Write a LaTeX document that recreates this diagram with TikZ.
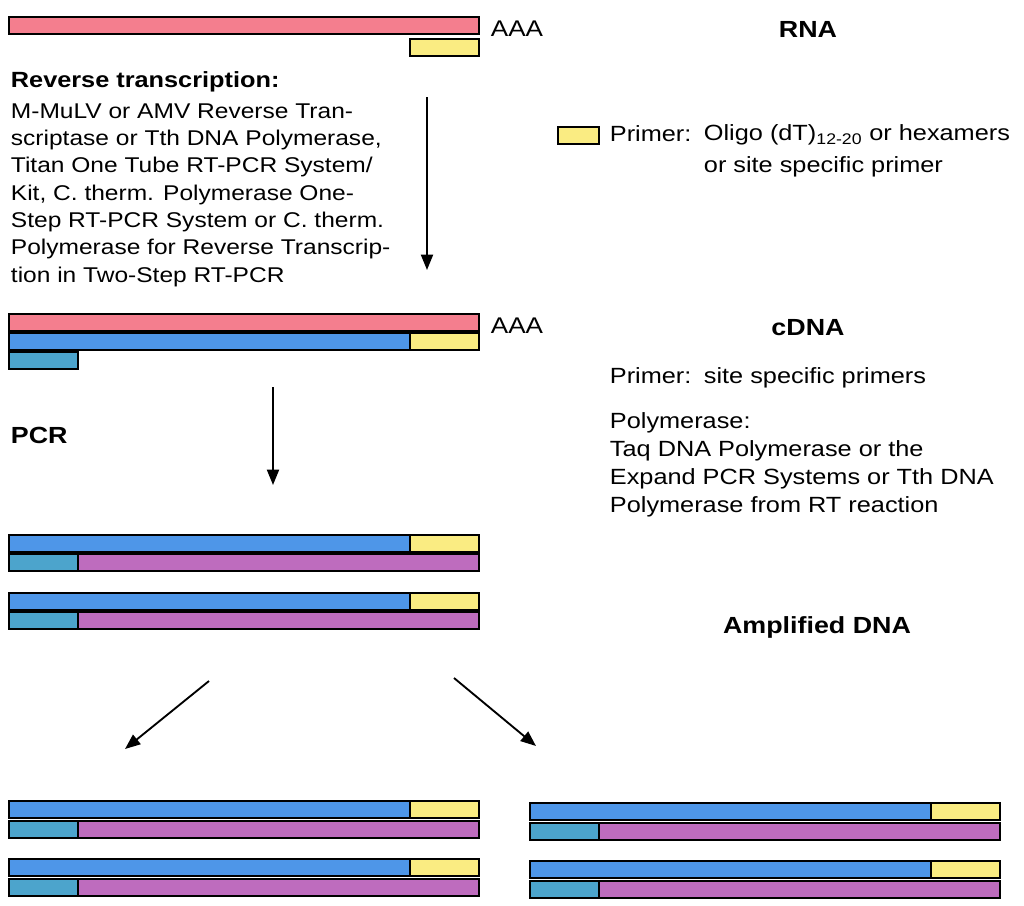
\documentclass[tikz,border=0pt]{standalone}
\usepackage{fontspec}
\setmainfont{Liberation Sans}[FakeStretch=1.15]
\usepackage{tikz}
\usetikzlibrary{positioning}
\usetikzlibrary{arrows.meta}
\definecolor{rnared}{RGB}{244,126,142}
\definecolor{dnablue}{RGB}{78,150,232}
\definecolor{primeryellow}{RGB}{250,236,130}
\definecolor{primerteal}{RGB}{76,164,204}
\definecolor{dnapurple}{RGB}{190,108,190}
\tikzset{
    strand/.style={
           rectangle,
           draw=black, line width=1.3pt,
           inner sep=0pt, outer sep=0pt,
           minimum height=12.5pt,
           anchor=north west,
           },
    rna/.style={strand, fill=rnared},
    dna/.style={strand, fill=dnablue},
    primer/.style={strand, fill=primeryellow},
    pcrprimer/.style={strand, fill=primerteal},
    copy/.style={strand, fill=dnapurple},
    full/.style={minimum width=352.5pt},
    long/.style={minimum width=301pt},
    short/.style={minimum width=51.5pt},
    txt/.style={
              inner sep=0pt,
              anchor=base west,
              align=left,
              font=\fontsize{16.5}{20.5}\selectfont
              },
    head/.style={
              inner sep=0pt,
              anchor=base,
              font=\fontsize{17.5}{20}\selectfont\bfseries
              },
}
\begin{document}
\begin{tikzpicture}[x=0.75pt, y=-0.75pt, >={Triangle[length=11.5pt,width=9pt]}, line width=1.4pt]
   \useasboundingbox (0,0) rectangle (1024,906);

   % RNA with primer
   \node[rna, full] (rna) at (9,17) {};
   \node[primer, short] (oligo) at (410,39) {};
   \node[txt, font=\fontsize{17}{20}\selectfont] (polyA) at (490,37) {AAA};
   \node[head] (rnalab) at (808,38) {RNA};

   % (multi-line nodes sit on their last baseline)
   \node[txt, font=\fontsize{16.5}{20}\selectfont\bfseries] (rthead) at (10,88) {Reverse transcription:};
   \node[txt, font=\fontsize{16}{20.5}\selectfont] (rttext) at (10,282) {M-MuLV or AMV Reverse Tran-\\
      scriptase or Tth DNA Polymerase,\\
      Titan One Tube RT-PCR System/\\
      Kit, C. therm. Polymerase One-\\
      Step RT-PCR System or C. therm.\\
      Polymerase for Reverse Transcrip-\\
      tion in Two-Step RT-PCR};

   \node[primer, minimum width=30.5pt] (key) at (558,127) {};
   \node[txt] (key1) at (609,141) {Primer:};
   \node[txt, font=\fontsize{16.5}{23.5}\selectfont] (key2) at (703,172) {Oligo (dT)\textsubscript{12-20} or hexamers\\
      or site specific primer};

   % cDNA
   \node[rna, full] (rna2) at (9,314) {};
   \node[dna, long] (cdna) at (9,333) {};
   \node[primer, short, right=0pt of cdna] (oligo2) {};
   \node[pcrprimer, short] (fwd) at (9,352) {};
   \node[txt, font=\fontsize{17}{20}\selectfont] (polyA2) at (490,333) {AAA};
   \node[head] (cdnalab) at (808,335) {cDNA};

   \node[txt] (pr1) at (609,383) {Primer:};
   \node[txt] (pr2) at (703,383) {site specific primers};
   \node[txt, font=\fontsize{16.5}{21}\selectfont] (pol) at (609,512) {Polymerase:\\
      Taq DNA Polymerase or the\\
      Expand PCR Systems or Tth DNA\\
      Polymerase from RT reaction};

   \node[head, anchor=base west] (pcrlab) at (10,443) {PCR};

   % amplified DNA
   \node[dna, long] (a1) at (9,535) {};
   \node[primer, short, right=0pt of a1] (a1p) {};
   \node[pcrprimer, short] (a1f) at (9,554) {};
   \node[copy, long, right=0pt of a1f] (a1c) {};
   \node[dna, long] (a2) at (9,593) {};
   \node[primer, short, right=0pt of a2] (a2p) {};
   \node[pcrprimer, short] (a2f) at (9,612) {};
   \node[copy, long, right=0pt of a2f] (a2c) {};
   \node[head] (amplab) at (817,633) {Amplified DNA};

   \node[dna, long] (l1) at (9,801) {};
   \node[primer, short, right=0pt of l1] (l1p) {};
   \node[pcrprimer, short] (l1f) at (9,821) {};
   \node[copy, long, right=0pt of l1f] (l1c) {};
   \node[dna, long] (l2) at (9,859) {};
   \node[primer, short, right=0pt of l2] (l2p) {};
   \node[pcrprimer, short] (l2f) at (9,879) {};
   \node[copy, long, right=0pt of l2f] (l2c) {};

   \node[dna, long] (r1) at (530,803) {};
   \node[primer, short, right=0pt of r1] (r1p) {};
   \node[pcrprimer, short] (r1f) at (530,823) {};
   \node[copy, long, right=0pt of r1f] (r1c) {};
   \node[dna, long] (r2) at (530,861) {};
   \node[primer, short, right=0pt of r2] (r2p) {};
   \node[pcrprimer, short] (r2f) at (530,881) {};
   \node[copy, long, right=0pt of r2f] (r2c) {};

   \coordinate (rtA) at (427,97);
   \coordinate (rtB) at (427,270);
   \coordinate (pcrA) at (273,387);
   \coordinate (pcrB) at (273,485);
   \coordinate (splitL) at (209,681);
   \coordinate (tipL) at (125,749);
   \coordinate (splitR) at (454,678);
   \coordinate (tipR) at (536,746);

   \path[->]
    (rtA) edge (rtB)
    (pcrA) edge (pcrB)
    (splitL) edge (tipL)
    (splitR) edge (tipR)
       ;
\end{tikzpicture}
\end{document}
